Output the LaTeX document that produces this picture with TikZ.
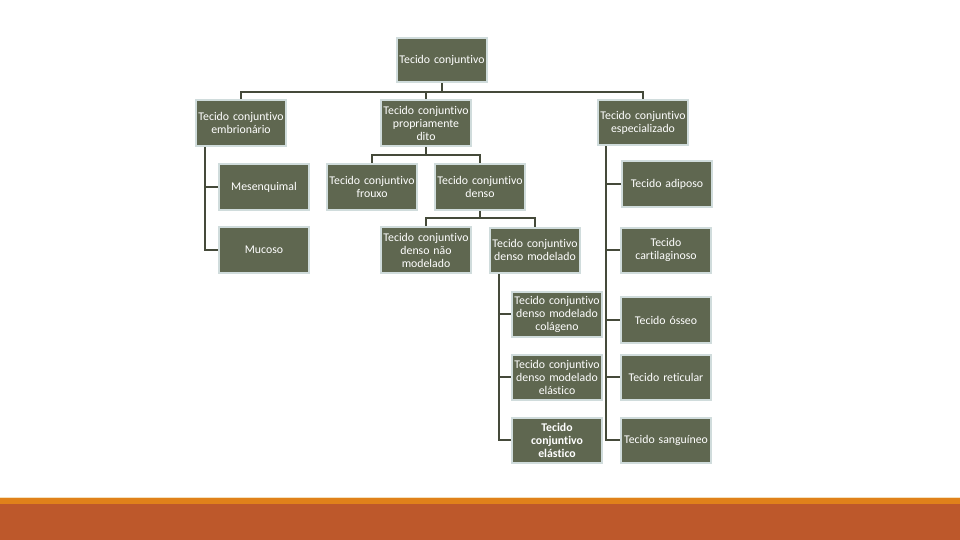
\documentclass[tikz,border=0pt]{standalone}
\usepackage{fontspec}
\setmainfont[Ligatures=NoCommon]{Carlito}
\usepackage{tikz}
\usetikzlibrary{positioning,backgrounds,calc}
\usepackage{xcolor}
\definecolor{cOlive}{RGB}{95,103,80}
\definecolor{cEdge}{RGB}{208,220,220}
\definecolor{cLine}{RGB}{69,74,58}
\definecolor{cOrange}{RGB}{224,129,26}
\definecolor{cRust}{RGB}{189,88,43}
\definecolor{cPale}{RGB}{245,225,190}
\tikzset{
  basebox/.style={rectangle,draw=cEdge,line width=2pt,fill=cOlive,
                  text=white,align=center,font=\fontsize{11.8}{13}\selectfont,
                  minimum width=90pt,minimum height=45pt,text width=90pt,inner sep=0pt},
  tallbox/.style={basebox,minimum height=46pt},
  conn/.style={draw=cLine,line width=2.6pt}
}

\begin{document}
\begin{tikzpicture}[x=1pt,y=-1pt]
  \useasboundingbox (0,0) rectangle (960,540);

  \node[basebox,minimum height=44pt] (root) at (442,60) {Tecido conjuntivo};
  \node[tallbox] (embr) at (241,123) {Tecido conjuntivo\\embrionário};
  \node[tallbox] (prop) at (426,123) {Tecido conjuntivo\\propriamente\\dito};
  \node[basebox] (espec) at (643,123) {Tecido conjuntivo\\especializado};

  \node[basebox] (mesen) at (264,187) {Mesenquimal};
  \node[tallbox] (mucoso) at (264,250) {Mucoso};
  \node[basebox] (frouxo) at (372,187) {Tecido conjuntivo\\frouxo};
  \node[basebox] (denso) at (480,187) {Tecido conjuntivo\\denso};
  \node[tallbox] (naomod) at (426,250) {Tecido conjuntivo\\denso não\\modelado};
  \node[basebox] (modelado) at (535,250) {Tecido conjuntivo\\denso modelado};

  \node[basebox] (colag) at (557,314) {Tecido conjuntivo\\denso modelado\\colágeno};
  \node[basebox] (dmelast) at (557,377) {Tecido conjuntivo\\denso modelado\\elástico};
  \node[basebox,font=\fontsize{11.8}{13}\selectfont\bfseries] (elast) at (557,440)
      {Tecido\\conjuntivo\\elástico};

  \node[basebox] (adiposo) at (667,184) {Tecido adiposo};
  \node[basebox] (cartil) at (666,250) {Tecido\\cartilaginoso};
  \node[tallbox] (osseo) at (666,320) {Tecido ósseo};
  \node[basebox] (retic) at (666,377) {Tecido reticular};
  \node[basebox] (sangu) at (666,440) {Tecido sanguíneo};

  \begin{scope}[on background layer]
    \fill[white] (0,0) rectangle (960,540);
    % bottom band
    \fill[cPale] (0,497) rectangle (960,498);
    \fill[cOrange] (0,498) rectangle (960,504);
    \fill[cRust] (0,504) rectangle (960,540);

    \coordinate (busA) at (442,92);
    \draw[conn] (root) -- (busA);
    \draw[conn] (embr.north) |- (busA) -| (espec.north);
    \draw[conn] (prop.north) -- (prop.north |- busA);

    \coordinate (busB) at (426,155);
    \draw[conn] (prop) -- (busB);
    \draw[conn] (frouxo.north) |- (busB) -| (denso.north);

    \coordinate (busC) at (480,218);
    \draw[conn] (denso) -- (busC);
    \draw[conn] (naomod.north) |- (busC) -| (modelado.north);

    \foreach \n in {mesen,mucoso}
      \draw[conn] ($(embr.south west)+(10,0)$) |- (\n.west);
    \foreach \n in {colag,dmelast,elast}
      \draw[conn] ($(modelado.south west)+(10,0)$) |- (\n.west);
    \foreach \n in {adiposo,cartil,osseo,retic,sangu}
      \draw[conn] ($(espec.south west)+(9,0)$) |- (\n.west);
  \end{scope}
\end{tikzpicture}
\end{document}
